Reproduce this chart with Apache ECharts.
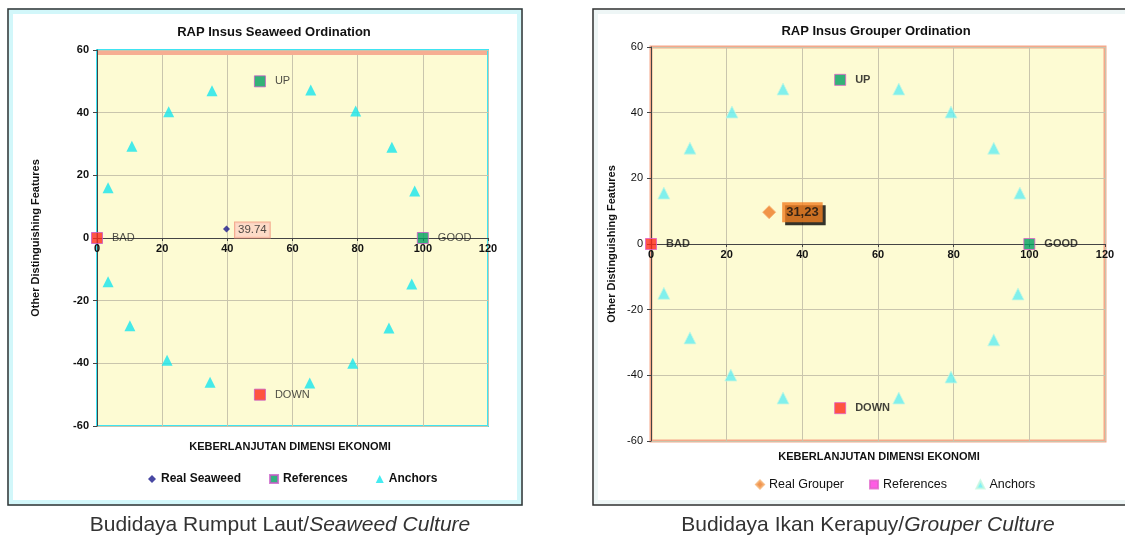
<!DOCTYPE html>
<html>
<head>
<meta charset="utf-8">
<script src="https://cdn.jsdelivr.net/npm/echarts@6/dist/echarts.min.js"></script>
<style>
  html, body { margin: 0; padding: 0; background: #fff; }
  #chart { width: 1125px; height: 537px; }
</style>
</head>
<body>
<div id="chart"></div>
<script>
// reference points (same for both ordinations)
const refNames = ['BAD', 'GOOD', 'UP', 'DOWN'];
const refX = [0, 100, 50, 50];
const refY = [0, 0, 50, -50];
const refColors = ['#ff2a1a', '#00a060', '#00a060', '#ff2a1a'];

// anchors
const seaweedAnchorX = [3.4, 10.7, 22, 35.3, 65.6, 79.4, 90.5, 97.5, 3.4, 10.1, 21.5, 34.7, 65.3, 78.5, 89.6, 96.6];
const seaweedAnchorY = [16, 29.3, 40.3, 47, 47.2, 40.5, 29, 15, -14, -28, -39, -46, -46.3, -40, -28.7, -14.7];
const seaweedReal = [39.74, 2.9];

// anchors
const grouperAnchorX = [3.4, 10.3, 21.4, 34.9, 65.5, 79.3, 90.6, 97.5, 3.4, 10.3, 21.1, 34.9, 65.5, 79.3, 90.6, 97];
const grouperAnchorY = [15.5, 29.2, 40.2, 47.2, 47.2, 40.2, 29.2, 15.5, -15, -28.6, -39.9, -46.9, -46.9, -40.5, -29.2, -15.2];
const grouperReal = [31.23, 9.7];

const axisTicks = { xMin: 0, xMax: 120, xStep: 20, yMin: -60, yMax: 60, yStep: 20 };

const font = 'Arial, "Liberation Sans", sans-serif';
const chart = echarts.init(document.getElementById('chart'));

function pairs(xs, ys) {
    return xs.map((x, i) => [x, ys[i]]);
}

function refData() {
    return refNames.map((name, i) => ({
        name: name,
        value: [refX[i], refY[i]],
        itemStyle: { color: refColors[i] }
    }));
}

const grids = [
    { left: 97, right: 637, top: 50, bottom: 111, show: true, backgroundColor: '#fdfbd3', borderColor: '#3ee4f2', borderWidth: 2 },
    { left: 651, right: 20, top: 47, bottom: 96, show: true, backgroundColor: '#fdfbd3', borderColor: '#f5a88a', borderWidth: 3 }
];

// x axis sits on y = 0, i.e. half the plot height above the bottom edge
function xAxis(idx, halfHeight) {
    return {
        gridIndex: idx, type: 'value',
        min: axisTicks.xMin, max: axisTicks.xMax, interval: axisTicks.xStep,
        offset: -halfHeight,
        axisLine: { onZero: false, lineStyle: { color: '#444', width: 1 } },
        axisTick: { show: true, length: 3, lineStyle: { color: '#444' } },
        axisLabel: { color: '#111', fontSize: 11, fontWeight: 'bold', fontFamily: font, margin: 5 },
        splitLine: { show: true, lineStyle: { color: '#c9c5ad', width: 1 } }
    };
}

function yAxis(idx, bold, gap) {
    return {
        gridIndex: idx, type: 'value',
        min: axisTicks.yMin, max: axisTicks.yMax, interval: axisTicks.yStep,
        name: 'Other Distinguishing Features',
        nameLocation: 'middle', nameRotate: 90, nameGap: gap,
        nameTextStyle: { color: '#111', fontSize: 11, fontWeight: 'bold', fontFamily: font },
        axisLine: { show: true, onZero: false, lineStyle: { color: '#444' } },
        axisTick: { show: true, length: 4, lineStyle: { color: '#444' } },
        axisLabel: { color: '#111', fontSize: 11, fontWeight: bold ? 'bold' : 'normal', fontFamily: font, margin: 8 },
        splitLine: { show: true, lineStyle: { color: '#c9c5ad', width: 1 } }
    };
}

const option = {
    animation: false,
    grid: grids,
    xAxis: [xAxis(0, 188), xAxis(1, 197)],
    yAxis: [yAxis(0, true, 56), yAxis(1, false, 34)],
    legend: [
        {
            left: 143, top: 468, itemGap: 28, itemWidth: 8, itemHeight: 8,
            textStyle: { fontSize: 12, fontWeight: 'bold', color: '#111', fontFamily: font },
            data: ['Real Seaweed', 'References', 'Anchors'],
            selectedMode: false
        },
        {
            left: 750, top: 473, itemGap: 25, itemWidth: 8, itemHeight: 8,
            textStyle: { fontSize: 12.5, color: '#111', fontFamily: font },
            data: ['Real Grouper', 'References ', 'Anchors '],
            selectedMode: false
        }
    ],
    graphic: [
        // panel frames
        { type: 'rect', shape: { x: 10, y: 11, width: 510, height: 492 }, style: { fill: 'none', stroke: '#d2f7fa', lineWidth: 6 }, z: 0 },
        { type: 'rect', shape: { x: 8, y: 9, width: 514, height: 496 }, style: { fill: 'none', stroke: '#333', lineWidth: 1.5 }, z: 0 },
        { type: 'rect', shape: { x: 595, y: 11, width: 540, height: 492 }, style: { fill: 'none', stroke: '#eef6f6', lineWidth: 6 }, z: 0 },
        { type: 'rect', shape: { x: 593, y: 9, width: 544, height: 496 }, style: { fill: 'none', stroke: '#333', lineWidth: 1.5 }, z: 0 },
        // salmon band on top of the seaweed plot
        { type: 'rect', shape: { x: 98, y: 51, width: 389, height: 4 }, style: { fill: '#f6ae92' }, z: 3 },
        // titles
        { type: 'text', x: 274, y: 32, style: { text: 'RAP Insus Seaweed Ordination', font: 'bold 13px ' + font, fill: '#111', textAlign: 'center', textVerticalAlign: 'middle' } },
        { type: 'text', x: 876, y: 31, style: { text: 'RAP Insus Grouper Ordination', font: 'bold 13px ' + font, fill: '#111', textAlign: 'center', textVerticalAlign: 'middle' } },
        // x axis names
        { type: 'text', x: 290, y: 447, style: { text: 'KEBERLANJUTAN DIMENSI EKONOMI', font: 'bold 11px ' + font, fill: '#111', textAlign: 'center', textVerticalAlign: 'middle' } },
        { type: 'text', x: 879, y: 457, style: { text: 'KEBERLANJUTAN DIMENSI EKONOMI', font: 'bold 11px ' + font, fill: '#111', textAlign: 'center', textVerticalAlign: 'middle' } },
        // captions
        {
            type: 'text', x: 280, y: 525,
            style: {
                text: '{a|Budidaya Rumput Laut/}{b|Seaweed Culture}',
                textAlign: 'center', textVerticalAlign: 'middle',
                rich: {
                    a: { fontSize: 21, fontFamily: font, fill: '#333' },
                    b: { fontSize: 21, fontFamily: font, fontStyle: 'italic', fill: '#333' }
                }
            }
        },
        {
            type: 'text', x: 868, y: 525,
            style: {
                text: '{a|Budidaya Ikan Kerapuy/}{b|Grouper Culture}',
                textAlign: 'center', textVerticalAlign: 'middle',
                rich: {
                    a: { fontSize: 21, fontFamily: font, fill: '#333' },
                    b: { fontSize: 21, fontFamily: font, fontStyle: 'italic', fill: '#333' }
                }
            }
        }
    ],
    series: [
        // seaweed chart
        {
            name: 'Anchors', type: 'scatter', xAxisIndex: 0, yAxisIndex: 0,
            symbol: 'triangle', symbolSize: 11,
            itemStyle: { color: '#16e6ee' },
            data: pairs(seaweedAnchorX, seaweedAnchorY)
        },
        {
            name: 'References', type: 'scatter', xAxisIndex: 0, yAxisIndex: 0,
            symbol: 'rect', symbolSize: 11,
            itemStyle: { color: '#00a060', borderColor: '#c85cc8', borderWidth: 1 },
            label: {
                show: true, position: 'right', distance: 9, formatter: '{b}',
                color: '#222', fontSize: 11, fontFamily: font
            },
            data: refData(),
            z: 4
        },
        {
            name: 'Real Seaweed', type: 'scatter', xAxisIndex: 0, yAxisIndex: 0,
            symbol: 'diamond', symbolSize: 7,
            itemStyle: { color: '#1a1a8c' },
            label: {
                show: true, position: 'right', distance: 5, offset: [0, 1],
                formatter: p => String(p.value[0]),
                color: '#222', fontSize: 11.5, fontFamily: font,
                backgroundColor: '#fcd3c4', borderColor: '#f29a80', borderWidth: 1,
                padding: [2, 3, 1, 3]
            },
            data: [seaweedReal],
            z: 5
        },
        // grouper chart
        {
            name: 'Anchors ', type: 'scatter', xAxisIndex: 1, yAxisIndex: 1,
            symbol: 'triangle', symbolSize: 12,
            itemStyle: { color: '#62eef2', borderColor: '#c8f8e0', borderWidth: 1 },
            data: pairs(grouperAnchorX, grouperAnchorY)
        },
        {
            name: 'References ', type: 'scatter', xAxisIndex: 1, yAxisIndex: 1,
            symbol: 'rect', symbolSize: 11,
            itemStyle: { color: '#ff33dd', borderColor: '#e060c8', borderWidth: 1 },
            label: {
                show: true, position: 'right', distance: 9, formatter: '{b}',
                color: '#111', fontSize: 11, fontWeight: 'bold', fontFamily: font
            },
            data: refData(),
            z: 4
        },
        {
            name: 'Real Grouper', type: 'scatter', xAxisIndex: 1, yAxisIndex: 1,
            symbol: 'diamond', symbolSize: 13,
            itemStyle: { color: '#ee7a26', borderColor: '#f5b070', borderWidth: 1 },
            label: {
                show: true, position: 'right', distance: 6, offset: [0, 0],
                formatter: p => String(p.value[0]).replace('.', ','),
                color: '#111', fontSize: 13, fontWeight: 'bold', fontFamily: font,
                backgroundColor: '#f28022', padding: [4, 4, 3, 4],
                shadowColor: '#000', shadowOffsetX: 3, shadowOffsetY: 3
            },
            data: [grouperReal],
            z: 5
        }
    ]
};

chart.setOption(option);
</script>
</body>
</html>
